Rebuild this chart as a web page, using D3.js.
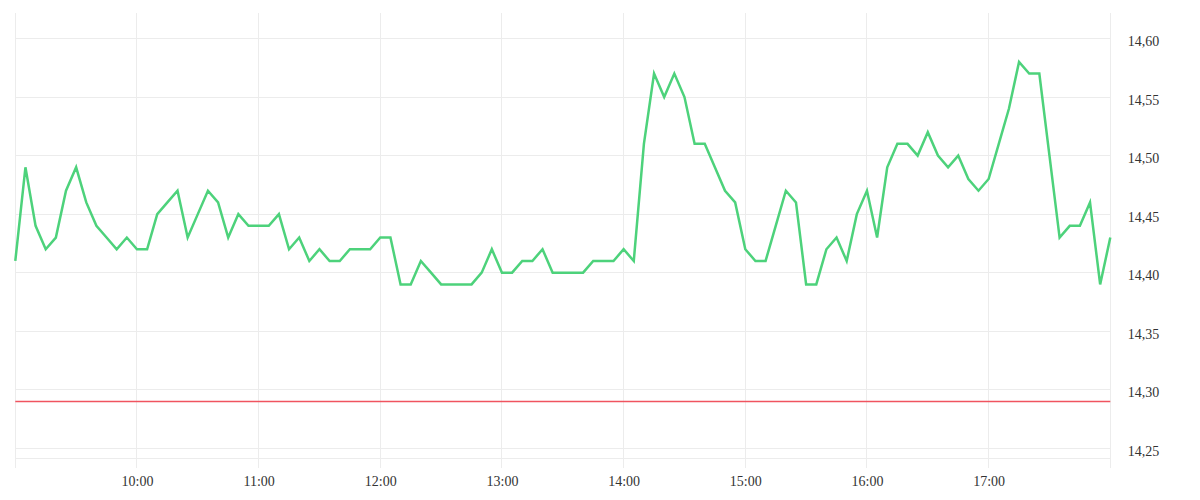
<!DOCTYPE html>
<html>
<head>
<meta charset="utf-8">
<script src="https://cdn.jsdelivr.net/npm/d3@7"></script>
<style>
  html, body { margin: 0; padding: 0; background: #fff; }
  svg text { font-family: "Liberation Serif", "Times New Roman", Times, serif; font-size: 14px; fill: #333; }
</style>
</head>
<body>
<div id="chart"></div>
<script>
// intraday price, one point every 5 minutes
const times = [
  "09:00","09:05","09:10","09:15","09:20","09:25","09:30","09:35","09:40","09:45","09:50","09:55",
  "10:00","10:05","10:10","10:15","10:20","10:25","10:30","10:35","10:40","10:45","10:50","10:55",
  "11:00","11:05","11:10","11:15","11:20","11:25","11:30","11:35","11:40","11:45","11:50","11:55",
  "12:00","12:05","12:10","12:15","12:20","12:25","12:30","12:35","12:40","12:45","12:50","12:55",
  "13:00","13:05","13:10","13:15","13:20","13:25","13:30","13:35","13:40","13:45","13:50","13:55",
  "14:00","14:05","14:10","14:15","14:20","14:25","14:30","14:35","14:40","14:45","14:50","14:55",
  "15:00","15:05","15:10","15:15","15:20","15:25","15:30","15:35","15:40","15:45","15:50","15:55",
  "16:00","16:05","16:10","16:15","16:20","16:25","16:30","16:35","16:40","16:45","16:50","16:55",
  "17:00","17:05","17:10","17:15","17:20","17:25","17:30","17:35","17:40","17:45","17:50","17:55",
  "18:00"
];
const prices = [
  14.41,14.49,14.44,14.42,14.43,14.47,14.49,14.46,14.44,14.43,14.42,14.43,
  14.42,14.42,14.45,14.46,14.47,14.43,14.45,14.47,14.46,14.43,14.45,14.44,
  14.44,14.44,14.45,14.42,14.43,14.41,14.42,14.41,14.41,14.42,14.42,14.42,
  14.43,14.43,14.39,14.39,14.41,14.40,14.39,14.39,14.39,14.39,14.40,14.42,
  14.40,14.40,14.41,14.41,14.42,14.40,14.40,14.40,14.40,14.41,14.41,14.41,
  14.42,14.41,14.51,14.57,14.55,14.57,14.55,14.51,14.51,14.49,14.47,14.46,
  14.42,14.41,14.41,14.44,14.47,14.46,14.39,14.39,14.42,14.43,14.41,14.45,
  14.47,14.43,14.49,14.51,14.51,14.50,14.52,14.50,14.49,14.50,14.48,14.47,
  14.48,14.51,14.54,14.58,14.57,14.57,14.50,14.43,14.44,14.44,14.46,14.39,
  14.43
];
const prevClose = 14.29;

const gridHours = ["09:00","10:00","11:00","12:00","13:00","14:00","15:00","16:00","17:00","18:00"];
const labelHours = ["10:00","11:00","12:00","13:00","14:00","15:00","16:00","17:00"];
const yTicks = [14.25, 14.30, 14.35, 14.40, 14.45, 14.50, 14.55, 14.60];
const yDomain = [14.2415, 14.622];

const width = 1200, height = 500;
const plot = { left: 15.3, right: 1110.3, top: 12.7, bottom: 458.3 };

const parse = d3.timeParse("%H:%M");
const data = times.map((t, i) => ({ t: parse(t), v: prices[i] }));

const x = d3.scaleTime()
  .domain([parse("09:00"), parse("18:00")])
  .range([plot.left, plot.right]);
const y = d3.scaleLinear()
  .domain(yDomain)
  .range([plot.bottom, plot.top]);

const svg = d3.select("#chart").append("svg")
  .attr("width", width)
  .attr("height", height);

const grid = svg.append("g").attr("shape-rendering", "crispEdges");

// horizontal grid (plus bottom border)
grid.selectAll("line.h")
  .data(yTicks.concat([yDomain[0]]))
  .join("line")
  .attr("class", "h")
  .attr("x1", plot.left).attr("x2", plot.right)
  .attr("y1", d => y(d)).attr("y2", d => y(d))
  .attr("stroke", "#ececec");

// vertical grid, running a bit past the bottom
grid.selectAll("line.v")
  .data(gridHours.map(parse))
  .join("line")
  .attr("class", "v")
  .attr("x1", d => x(d)).attr("x2", d => x(d))
  .attr("y1", plot.top).attr("y2", plot.bottom + 9.4)
  .attr("stroke", "#ececec");

// previous close
svg.append("path")
  .attr("d", `M${plot.left},${y(prevClose)}H${plot.right}`)
  .style("stroke", "#f0545f")
  .style("stroke-width", "1.3px")
  .style("fill", "none");

// price line
const line = d3.line()
  .x(d => x(d.t))
  .y(d => y(d.v));

svg.append("path")
  .datum(data)
  .attr("d", line)
  .attr("fill", "none")
  .attr("stroke", "#4dd27b")
  .attr("stroke-width", 2.5)
  .attr("stroke-linejoin", "miter");

// x axis labels
const xAxis = d3.axisBottom(x)
  .tickValues(labelHours.map(parse))
  .tickFormat(d3.timeFormat("%H:%M"))
  .tickSize(0)
  .tickPadding(0);
const gx = svg.append("g")
  .attr("transform", `translate(0,${plot.bottom + 18})`)
  .call(xAxis)
  .attr("font-family", null).attr("font-size", null);
gx.select(".domain").remove();
gx.selectAll("text").attr("dy", "0.71em");

// y axis labels on the right
const yAxis = d3.axisRight(y)
  .tickValues(yTicks)
  .tickFormat(d => d.toFixed(2).replace(".", ","))
  .tickSize(0)
  .tickPadding(0);
const gy = svg.append("g")
  .attr("transform", `translate(${plot.right + 17.4},0)`)
  .call(yAxis)
  .attr("font-family", null).attr("font-size", null);
gy.select(".domain").remove();
gy.selectAll("text").attr("dy", "0.5em");
</script>
</body>
</html>
